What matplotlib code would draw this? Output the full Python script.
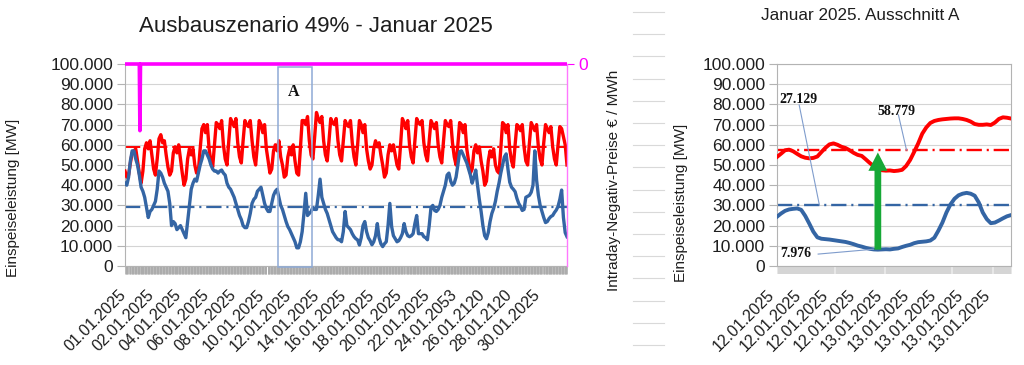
import numpy as np
import matplotlib
matplotlib.use("Agg")
import matplotlib.pyplot as plt
from matplotlib.ticker import FuncFormatter, MultipleLocator
from matplotlib.lines import Line2D
from matplotlib.patches import Rectangle

plt.rcParams['font.family'] = ['Liberation Sans', 'DejaVu Sans']
plt.rcParams['lines.scale_dashes'] = False

# ---------------- data: left chart (January 2025, 3-hour samples, in 1000 MW) ----------------
step_hours = 3
red_left_k = [
    47, 44, 45, 51, 56, 57, 58, 52,   # 01.01
    46, 41, 47, 58, 61, 58, 62, 55,   # 02.01
    48, 45, 53, 63, 65, 61, 62, 55,   # 03.01
    49, 45, 47, 56, 59, 56, 60, 53,   # 04.01
    46, 40, 43, 53, 58, 55, 58, 50,   # 05.01
    46, 47, 58, 68, 70, 66, 70, 58,   # 06.01
    52, 49, 60, 71, 70, 68, 72, 60,   # 07.01
    53, 50, 62, 73, 71, 69, 73, 61,   # 08.01
    54, 51, 62, 72, 70, 69, 72, 62,   # 09.01
    54, 50, 60, 72, 70, 66, 70, 58,   # 10.01
    52, 46, 48, 57, 60, 57, 62, 54,   # 11.01
    50, 44, 45, 54, 58, 55, 60, 52,   # 12.01
    46, 45, 58, 72, 72, 70, 74, 62,   # 13.01
    55, 53, 64, 76, 73, 71, 74, 62,   # 14.01
    55, 52, 62, 73, 71, 70, 73, 62,   # 15.01
    55, 52, 62, 72, 70, 69, 72, 61,   # 16.01
    54, 50, 60, 72, 70, 66, 70, 58,   # 17.01
    52, 48, 50, 58, 62, 59, 61, 55,   # 18.01
    50, 44, 46, 55, 60, 57, 60, 55,   # 19.01
    50, 48, 60, 73, 71, 68, 72, 60,   # 20.01
    54, 51, 62, 73, 71, 70, 72, 61,   # 21.01
    55, 52, 62, 72, 70, 68, 71, 60,   # 22.01
    54, 51, 62, 72, 70, 69, 72, 61,   # 23.01
    54, 50, 60, 71, 70, 66, 70, 58,   # 24.01
    52, 46, 48, 57, 60, 56, 59, 52,   # 25.01
    47, 40, 42, 52, 57, 54, 58, 50,   # 26.01
    47, 46, 58, 71, 70, 66, 70, 58,   # 27.01
    52, 49, 60, 70, 69, 67, 70, 59,   # 28.01
    52, 50, 61, 71, 69, 67, 70, 59,   # 29.01
    53, 50, 61, 70, 68, 66, 69, 59,   # 30.01
    53, 50, 60, 69, 68, 64, 60, 50,   # 31.01
]
blue_left_k = [
    41, 40, 44, 52, 57, 57, 53, 50,
    45, 39, 37, 34, 29, 24, 27, 28,
    30, 32, 38, 47, 46, 44, 41, 39,
    37, 31, 20, 22, 21, 18, 19, 20,
    18, 16, 14, 22, 30, 38, 41, 43,
    42, 46, 50, 53, 57, 57, 55, 53,
    50, 48, 47, 47, 46, 47, 47.5, 46,
    45, 41, 39, 38, 36, 34, 31, 28,
    25, 23, 20, 19, 19, 22, 26, 31,
    33, 34, 37, 38, 39, 35, 31, 28.5,
    27, 27, 31, 35, 37, 38, 34, 30,
    28, 25, 22, 19.5, 18, 16, 14, 12,
    9, 9, 12, 17, 26, 36, 25, 26,
    27, 29, 28, 28, 35, 43, 34, 31,
    28, 26, 23, 20, 17, 15.5, 14, 13,
    12.9, 12, 17, 27, 20, 19, 18, 16,
    14.5, 13.5, 12.9, 10.4, 14, 20, 22, 17,
    14, 12.5, 10.5, 12, 15, 21, 14, 11,
    9.6, 11, 12, 20, 31, 19.5, 15, 13.5,
    12, 12.5, 14, 16, 21, 17, 15, 14.5,
    15, 16, 21, 25, 16, 16, 16, 14.5,
    14, 13, 20, 29, 30, 27.5, 27, 28,
    30, 34, 37, 40, 45, 46, 42, 40,
    41, 44, 50, 56.6, 57, 55, 53, 51,
    48, 45, 41, 44, 47.5, 40, 33, 27,
    20, 15, 13.5, 16.5, 22, 26, 28.5, 32,
    37, 41, 46, 50, 54, 55.5, 48, 41.5,
    39, 38, 36.8, 33.5, 31, 29.5, 27.5, 28,
    34, 34.5, 35, 36.5, 40, 57, 42.6, 35,
    30, 27, 24, 21.5, 22, 23.5, 24.5, 25,
    26.5, 27.7, 29.5, 33, 37.6, 24, 16.5, 14.5,
]
red_left_mean = 58800
blue_left_mean = 29000

# price series (secondary axis, EUR/MWh)
price_hours = [0, 24, 25, 26, 741]
price_values = [0, 0, -33, 0, 0]

left_tick_labels = ["01.01.2025", "02.01.2025", "04.01.2025", "06.01.2025", "08.01.2025",
                    "10.01.2025", "12.01.2025", "14.01.2025", "16.01.2025", "18.01.2025",
                    "20.01.2025", "22.01.2025", "24.01.2053", "26.01.2120", "28.01.2120",
                    "30.01.2025"]

# ---------------- data: right chart (detail A, hourly, in 1000 MW) ----------------
red_right_k = [54, 55.6, 57.3, 57.6, 56.8, 55.5, 54.3, 53.6, 53.3, 53.5,
               54.2, 56.4, 58.5, 60.2, 60.7, 60, 59, 58.4, 57.3, 56,
               55, 54.5, 52.8, 51, 49.4, 48.2, 47.4, 47.2, 47.3, 47,
               47.2, 47.6, 49.5, 52.5, 56.5, 60.7, 65.5, 68.6, 70.8, 71.8,
               72.3, 72.6, 72.8, 73, 73.1, 73.1, 72.8, 72.3, 71.5, 70.3,
               69.9, 69.9, 70.1, 69.8, 71, 72.8, 73.6, 73.4, 73]
blue_right_k = [24.4, 26, 27.3, 28, 28.3, 28.5, 27.8, 24.8, 21, 17,
                14.2, 13.5, 13.3, 13.1, 12.8, 12.5, 12.2, 11.9, 11.4, 10.8,
                10.1, 9.6, 9, 8.5, 8.2, 8.1, 8.2, 8.3, 8.2, 8.5,
                8.7, 9.4, 10, 10.5, 11.3, 11.8, 12, 12.2, 12.6, 14,
                17.5, 21.5, 26.5, 30.5, 33.3, 35, 35.8, 36.2, 35.8, 34.8,
                31.5, 26.5, 23.2, 21.2, 21.5, 22.5, 23.6, 24.6, 25.2]
red_right_mean = 57400
blue_right_mean = 30200
right_tick_labels = ["12.01.2025"] * 4 + ["13.01.2025"] * 5
annot_texts = ["27.129", "58.779", "7.976"]

# ---------------- styling ----------------
RED = '#ff0000'
BLUE = '#3465a4'
MAGENTA = '#ff00ff'
GREEN = '#16a836'
GRID = '#d4d4d4'
SPINE = '#b3b3b3'
TXT = '#1e1e1e'
DASHDOT = (0, (11, 3.5, 1.5, 3.5))

fmt = FuncFormatter(lambda v, _: f"{v:,.0f}".replace(",", "."))

W, H = 1024, 365
fig = plt.figure(figsize=(W / 100, H / 100), dpi=100)


def fx(px):
    return px / W


def fy(py):
    return 1 - py / H


# ---------------- left chart ----------------
ax = fig.add_axes([fx(125), fy(266), fx(567) - fx(125), fy(64) - fy(266)])
hours = np.arange(len(red_left_k)) * step_hours
ax.set_xlim(0, hours[-1])
ax.set_ylim(0, 100000)
ax.axhline(red_left_mean, color=RED, lw=1.4, linestyle=DASHDOT, zorder=2)
ax.axhline(blue_left_mean, color=BLUE, lw=1.6, linestyle=DASHDOT, zorder=2)
ax.plot(hours, np.array(red_left_k) * 1000, color=RED, lw=2.4, zorder=3,
        solid_joinstyle='round')
ax.plot(hours, np.array(blue_left_k) * 1000, color=BLUE, lw=2.4, zorder=4,
        solid_joinstyle='round')
ax.set_yticks(np.arange(0, 100001, 10000))
ax.yaxis.set_major_formatter(fmt)
ax.yaxis.grid(True, color=GRID, lw=0.8)
ax.set_axisbelow(True)
ax.tick_params(axis='y', length=5.5, width=0.8, color=SPINE, labelsize=12.5,
               labelcolor=TXT, pad=3)
xt = np.linspace(7, 700, len(left_tick_labels))
ax.set_xticks(xt)
ax.set_xticklabels(left_tick_labels, rotation=45, ha='right', fontsize=11.5, color=TXT)
ax.tick_params(axis='x', which='major', length=0, pad=15)
ax.xaxis.set_minor_locator(MultipleLocator(1))
ax.tick_params(axis='x', which='minor', length=5.5, width=0.55, color='#a8a8a8')
for s in ['top', 'right']:
    ax.spines[s].set_visible(False)
for s in ['left', 'bottom']:
    ax.spines[s].set_color(SPINE)
    ax.spines[s].set_linewidth(0.8)

ax.add_patch(Rectangle((256.5, -700), 57, 99200, fill=False, ec='#8eaad6', lw=1.1,
                       clip_on=False, zorder=6))
ax.text(283, 86000, 'A', family='Liberation Serif', weight='bold', fontsize=11.5,
        ha='center', va='center', color='#111111', zorder=7)

ax2 = ax.twinx()
ax2.set_ylim(-100, 0)
ax2.plot(price_hours, price_values, color=MAGENTA, lw=2.6, clip_on=False,
         solid_capstyle='butt', zorder=5)
ax2.set_yticks([0])
ax2.tick_params(axis='y', colors=MAGENTA, labelsize=12.5, length=5, width=0.8, pad=3)
for s in ['top', 'left', 'bottom']:
    ax2.spines[s].set_visible(False)
ax2.spines['right'].set_color('#ff77ff')
ax2.spines['right'].set_linewidth(1.0)

# ---------------- right chart ----------------
axr = fig.add_axes([fx(777), fy(266), fx(1011) - fx(777), fy(64) - fy(266)])
hr = np.arange(len(red_right_k))
axr.set_xlim(0, hr[-1])
axr.set_ylim(0, 100000)
axr.axhline(red_right_mean, color=RED, lw=1.7, linestyle=DASHDOT, zorder=2)
axr.axhline(blue_right_mean, color=BLUE, lw=1.7, linestyle=DASHDOT, zorder=2)
axr.plot(hr, np.array(red_right_k) * 1000, color=RED, lw=2.8, zorder=3,
         solid_joinstyle='round')
axr.plot(hr, np.array(blue_right_k) * 1000, color=BLUE, lw=2.8, zorder=4,
         solid_joinstyle='round')
axr.set_yticks(np.arange(0, 100001, 10000))
axr.yaxis.set_major_formatter(fmt)
axr.yaxis.grid(True, color=GRID, lw=0.8)
axr.set_axisbelow(True)
axr.tick_params(axis='y', length=5.5, width=0.8, color=SPINE, labelsize=12.5,
                labelcolor=TXT, pad=3)
xtr = np.linspace(0, 53.5, len(right_tick_labels))
axr.set_xticks(xtr)
axr.set_xticklabels(right_tick_labels, rotation=45, ha='right', fontsize=11.5, color=TXT)
axr.tick_params(axis='x', which='major', length=0, pad=15)
axr.xaxis.set_minor_locator(MultipleLocator(0.25))
axr.tick_params(axis='x', which='minor', length=5.5, width=0.35, color='#a0a0a0')
for s in axr.spines.values():
    s.set_color(SPINE)
    s.set_linewidth(0.8)

# green arrow from blue minimum to red mean
i_min = int(np.argmin(blue_right_k))
axr.annotate('', xy=(i_min, red_right_mean - 1200),
             xytext=(i_min, blue_right_k[i_min] * 1000),
             arrowprops=dict(arrowstyle='simple,tail_width=0.22,head_width=0.62,head_length=0.6',
                             color=GREEN, lw=0, mutation_scale=22, shrinkA=0, shrinkB=0),
             zorder=6)

LC = '#7f9ccc'
axr.text(0.7, 82200, annot_texts[0], family='Liberation Serif', weight='bold',
         fontsize=10, va='center', ha='left', color='#111111')
axr.plot([5.5, 10.5], [79700, blue_right_mean], color=LC, lw=0.8, zorder=5)
axr.text(24.8, 76700, annot_texts[1], family='Liberation Serif', weight='bold',
         fontsize=10, va='center', ha='left', color='#111111')
axr.plot([30.1, 32.1], [74800, red_right_mean], color=LC, lw=0.8, zorder=5)
axr.text(0.7, 6400, annot_texts[2], family='Liberation Serif', weight='bold',
         fontsize=10, va='center', ha='left', color='#111111')
axr.plot([10.2, 23.9], [5900, 8300], color=LC, lw=0.8, zorder=5)

# ---------------- texts ----------------
fig.text(fx(316), fy(27), 'Ausbauszenario 49% - Januar 2025', ha='center', va='center',
         fontsize=16, color=TXT)
fig.text(fx(860), fy(15), 'Januar 2025. Ausschnitt A', ha='center', va='center',
         fontsize=12.3, color=TXT)
fig.text(fx(13), fy(198), 'Einspeiseleistung [MW]', rotation=90, ha='center', va='center',
         fontsize=11, color=TXT)
fig.text(fx(681), fy(203), 'Einspeiseleistung [MW]', rotation=90, ha='center', va='center',
         fontsize=11, color=TXT)
fig.text(fx(614), fy(180), 'Intraday-Negativ-Preise € / MWh', rotation=90, ha='center',
         va='center', fontsize=11, color=TXT)

# faint horizontal strokes between the charts
for i in range(16):
    y = 12 + i * 22.2
    fig.add_artist(Line2D([fx(633), fx(664)], [fy(y), fy(y)], transform=fig.transFigure,
                          color='#d9d9d9', lw=0.8))

fig.savefig('out.png', dpi=100)
